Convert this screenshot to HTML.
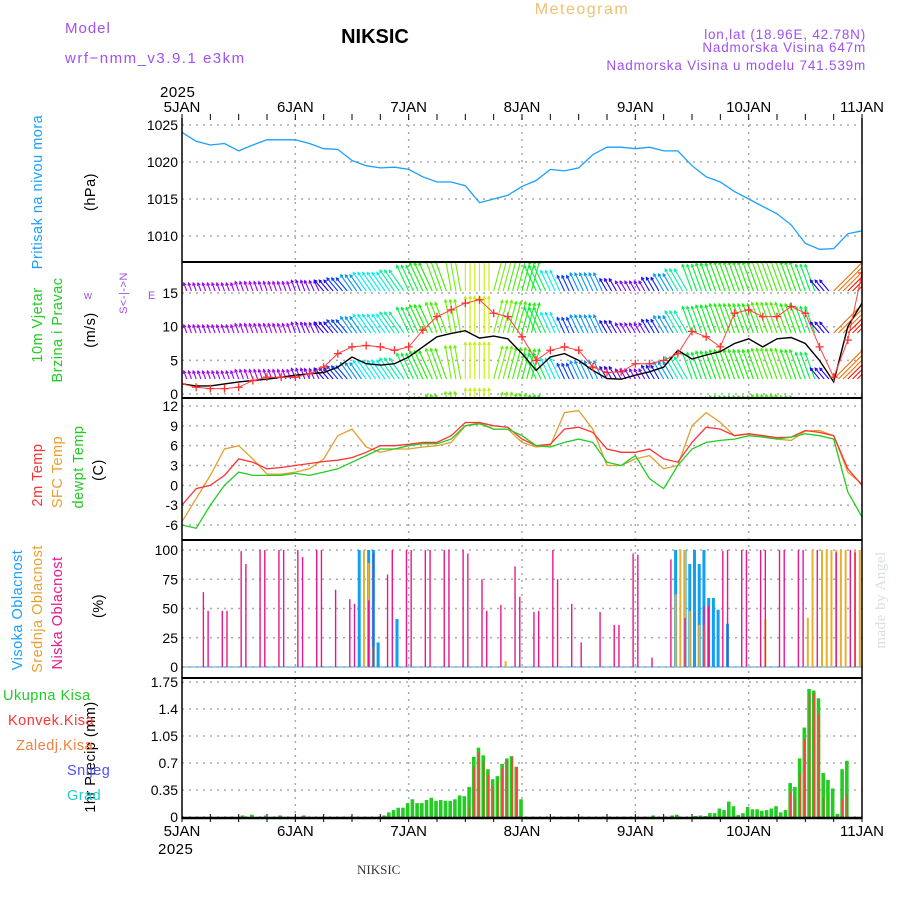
<!DOCTYPE html>
<html><head><meta charset="utf-8"><style>
html,body{margin:0;padding:0;background:#fff;}
svg{display:block;font-family:"Liberation Sans",sans-serif;}
</style></head><body>
<svg id="chart" width="900" height="900" viewBox="0 0 900 900" xmlns="http://www.w3.org/2000/svg">
<rect x="0" y="0" width="900" height="900" fill="#fff"/>
<g id="header" font-size="15" letter-spacing="1">
<text x="65" y="33" fill="#a050f0">Model</text>
<text x="65" y="63" fill="#a050f0" letter-spacing="1.5">wrf−nmm_v3.9.1 e3km</text>
<text x="375" y="43" text-anchor="middle" font-size="20" font-weight="bold" fill="#000" letter-spacing="0">NIKSIC</text>
<text x="582" y="14" text-anchor="middle" fill="#f0c070" font-size="16" letter-spacing="1.5">Meteogram</text>
<text x="866" y="39" text-anchor="end" fill="#a050f0" font-size="13.5" letter-spacing="0.8">lon,lat (18.96E, 42.78N)</text>
<text x="866" y="52" text-anchor="end" fill="#a050f0" font-size="13.5" letter-spacing="0.8">Nadmorska Visina 647m</text>
<text x="866" y="70" text-anchor="end" fill="#a050f0" font-size="13.5" letter-spacing="0.8">Nadmorska Visina u modelu 741.539m</text>
<text x="160" y="97" fill="#000" font-size="15" letter-spacing="0.5">2025</text>
<text x="158" y="854" fill="#000" font-size="15" letter-spacing="0.5">2025</text>
<text x="357" y="874" fill="#333" font-size="13" font-family="Liberation Serif,serif" letter-spacing="0">NIKSIC</text>
<text transform="translate(885,600) rotate(-90)" text-anchor="middle" fill="#d8e0d8" font-size="15" font-family="Liberation Serif,serif" letter-spacing="0.5">made by Angel</text>
</g>
<g id="left-labels" font-size="14.5" letter-spacing="0.5">
<text transform="translate(42,192) rotate(-90)" text-anchor="middle" fill="#1a9fff">Pritisak na nivou mora</text>
<text transform="translate(95,192) rotate(-90)" text-anchor="middle" fill="#000">(hPa)</text>
<text transform="translate(42,325) rotate(-90)" text-anchor="middle" fill="#22cc22">10m Vjetar</text>
<text transform="translate(62,330) rotate(-90)" text-anchor="middle" fill="#22cc22">Brzina i Pravac</text>
<text transform="translate(95,330) rotate(-90)" text-anchor="middle" fill="#000">(m/s)</text>
<text x="84" y="299" fill="#a050f0" font-size="11">w</text>
<text x="148" y="299" fill="#a050f0" font-size="11">E</text>
<text transform="translate(127,293) rotate(-90)" text-anchor="middle" fill="#a050f0" font-size="11">S&lt;-|-&gt;N</text>
<text transform="translate(42,475) rotate(-90)" text-anchor="middle" fill="#ff3333">2m Temp</text>
<text transform="translate(62,472) rotate(-90)" text-anchor="middle" fill="#e8a030">SFC Temp</text>
<text transform="translate(83,467) rotate(-90)" text-anchor="middle" fill="#22cc22">dewpt Temp</text>
<text transform="translate(103,470) rotate(-90)" text-anchor="middle" fill="#000">(C)</text>
<text transform="translate(22,610) rotate(-90)" text-anchor="middle" fill="#1a9fff">Visoka Oblacnost</text>
<text transform="translate(42,609) rotate(-90)" text-anchor="middle" fill="#e8a030">Srednja Oblacnost</text>
<text transform="translate(62,613) rotate(-90)" text-anchor="middle" fill="#e8188c">Niska Oblacnost</text>
<text transform="translate(103,606) rotate(-90)" text-anchor="middle" fill="#000">(%)</text>
<text transform="translate(95,757) rotate(-90)" text-anchor="middle" fill="#000">1hr Precip (mm)</text>
<text x="3" y="700" fill="#22cc22">Ukupna Kisa</text>
<text x="8" y="725" fill="#ff3333">Konvek.Kisa</text>
<text x="16" y="750" fill="#f08040">Zaledj.Kisa</text>
<text x="67" y="775" fill="#5050ff">Snijeg</text>
<text x="67" y="800" fill="#22cccc">Grad</text>
</g>
<g id="plot"></g>
</svg>
<script>
// ---------- DATA (3-hourly, index 0 = 5JAN 00h ... 48 = 11JAN 00h) ----------
const dayLabels = ["5JAN","6JAN","7JAN","8JAN","9JAN","10JAN","11JAN"];
const pressure = [1024,1022.8,1022.3,1022.5,1021.5,1022.3,1023,1023,1023,1022.5,1021.8,1021.7,1020.2,1019.5,1019.2,1019.3,1019,1018,1017.3,1017.3,1016.8,1014.5,1015,1015.5,1016.7,1017.5,1019,1018.8,1019.2,1021,1022,1022,1021.8,1022,1021.5,1021.5,1019.5,1018,1017.3,1016,1015,1014,1013,1011.5,1009,1008.2,1008.3,1010.3,1010.7];
const windSpeed = [1.5,1.2,1.2,1.5,1.8,2,2.2,2.5,2.8,3,3.2,4,5.5,4.5,4.3,4.5,5.5,7,8.5,9,9.4,8.3,8.6,8.2,6,3.5,5.5,6,5,3.5,2.3,2.2,2.8,3.3,4,6.5,5.2,5.8,6.3,7.5,8.2,7,8.2,8.4,7.5,5,1.8,10,13.5];
const windGust = [1.5,1,0.8,0.8,1,2,2.5,2.5,2.5,3,4,6,7,7.2,7,6.5,7,9.5,11.5,12.5,13.5,14,12,11.5,8.5,5,6.5,7,6.5,4,3.2,3.3,4.5,4.5,5,6,9.3,8.5,7,12,12.5,11.5,11.5,13,12,7,2.5,8,18];
const arrowSpeed = [2,2,2,2,2.5,2.5,2.5,2.5,3,3,4,5,6,7,7,8,9,10,10.5,11,12,12,11,10.5,10,9,7,5,6,6,4,3,3,4.5,6,8,9,9.5,10,10,10,10.5,10.5,10,9,4,14,15,16];
const arrowDir = [110,110,110,110,110,110,110,110,110,115,130,130,125,125,125,125,115,115,110,100,90,90,75,75,75,115,115,115,115,115,120,120,120,120,120,120,110,110,110,110,110,110,110,110,110,130,45,45,45];
const temp2m = [-3,-0.5,0,1.5,4,3.5,2.5,2.7,3,3.3,3.6,3.8,4.2,5,6,6,6.2,6.5,6.5,7.5,9.5,9.5,9,8.8,7,6,6.2,8.5,8.8,8,5.5,5,5,5.5,4,3.5,6.5,8.8,8.5,7.5,7.8,7.5,7.2,7.3,8.3,8,7.5,2.5,0];
const tempSfc = [-5.5,-2,1.5,5.5,6,4,1.7,1.7,2,2.5,4,7.5,8.5,5.8,5,5.5,5.5,5.8,6,6.5,9,9.5,8.5,8.5,6.5,5.8,6,11,11.3,8.5,3,3,4,4.5,2.5,3,9,11,9.5,7.5,7.8,7.5,7,6.8,8.2,8.3,7.5,2,0.2];
const tempDew = [-6,-6.5,-3,0,2,1.5,1.5,1.5,1.8,1.5,2,2.5,3.5,4.5,5.5,5.5,6,6.3,6.3,7,9,9.3,8.5,8.5,7.5,6,5.8,6.5,7,6.5,3.5,3,4.5,1,-0.5,3,5.5,6.5,6.8,7,7.5,7.3,7,7.3,7.8,7.5,7,-1,-4.8];
// cloud cover (hourly, sparse)
const lowCloudHours = [4,5,8,9,12,13,16,17,20,21,24,25,28,29,32,35,36,39,40,43,44,47,48,51,52,55,56,59,60,63,64,67,70,71,74,75,78,79,82,84,88,91,92,95,96,99,103,106,110,111,114,115,118,119,122,123,126,127,130,131,134,138,141,142];
const lowCloudVals = [64,48,48,48,99,88,100,100,100,100,100,94,100,100,66,58,54,57,97,79,100,100,100,100,100,100,100,100,97,75,48,53,86,60,47,48,100,75,54,21,47,36,36,97,96,8,92,42,52,52,99,100,100,100,100,100,100,100,100,100,100,98,100,98];
const highCloudHours = [37,39,40,41,45,104,106,107,108,109,110,111,112,113,115];
const highCloudVals = [100,100,100,21,41,100,100,88,100,88,100,59,59,49,37];
const midCloudHours = [38,39,40,68,104,105,106,107,109,110,123,132,133,135,136,137,138,139,140,142,143];
const midCloudVals = [100,89,17,5,62,100,100,48,36,36,41,42,100,100,100,100,100,100,100,100,100];
// precipitation (hourly, sparse)
const precipHours = [13,15,18,21,26,43,44,45,46,47,48,49,50,51,52,53,54,55,56,57,58,59,60,61,62,63,64,65,66,67,68,69,70,71,72,100,104,105,109,110,111,112,113,114,115,116,117,118,119,120,121,122,123,124,125,126,127,128,129,130,131,132,133,134,135,136,137,138,139,140,141];
const precipTotal = [0.02,0.03,0.02,0.02,0.02,0.02,0.06,0.09,0.12,0.12,0.18,0.23,0.18,0.18,0.22,0.25,0.21,0.22,0.21,0.21,0.23,0.28,0.27,0.39,0.78,0.9,0.8,0.62,0.49,0.53,0.69,0.76,0.79,0.65,0.23,0.02,0.02,0.03,0.013,0.02,0.013,0.05,0.05,0.11,0.09,0.2,0.14,0.025,0.05,0.13,0.1,0.1,0.08,0.09,0.11,0.14,0.06,0.09,0.44,0.39,0.76,1.16,1.66,1.64,1.54,0.57,0.48,0.37,0.04,0.62,0.73];
const precipConv = [0,0,0,0,0,0,0,0,0,0,0,0,0,0,0,0,0,0,0,0,0,0,0,0.13,0.65,0.84,0.72,0.55,0.4,0.47,0.63,0.74,0.78,0.65,0,0,0,0,0,0,0,0,0,0,0,0,0,0,0,0,0,0,0,0,0,0,0,0,0.32,0.25,0.57,1.01,1.6,1.6,1.34,0.25,0,0,0,0.23,0.3];
const pressureTicks = [1025,1020,1015,1010];
const windTicks = [0,5,10,15];
const tempTicks = [12,9,6,3,0,-3,-6];
const cloudTicks = [100,75,50,25,0];
const precipTicks = [1.75,1.4,1.05,0.7,0.35,0];
const precipTickLabels = ["1.75","1.4","1.05","0.7","0.35","0"];

// ---------- SCALES ----------
const X0=182, X1=862, HOURS=144;
function xh(h){return X0+(X1-X0)*h/HOURS;}
function x3(i){return xh(i*3);}
function yP(p){return 125+(1025-p)*7.4;}
function yW(v){return 394-v*6.73;}
function yT(t){return 406+(12-t)*6.61;}
function yC(c){return 667-c*1.17;}
function yR(r){return 817-r*77.1;}
const panels=[[118,262],[262,398],[398,540],[540,678],[678,818]];

const NS="http://www.w3.org/2000/svg";
const plot=document.getElementById('plot');
function mk(tag,attrs,parent){const e=document.createElementNS(NS,tag);for(const k in attrs)e.setAttribute(k,attrs[k]);(parent||plot).appendChild(e);return e;}

const defs=mk('defs',{});
panels.forEach((p,i)=>{const c=mk('clipPath',{id:'clip'+i},defs);mk('rect',{x:X0,y:p[0],width:X1-X0,height:p[1]-p[0]},c);});

const grid=mk('g',{});


for(let d=1;d<6;d++){
  const gl=mk('line',{x1:xh(d*24),x2:xh(d*24),y1:118,y2:818,stroke:'#aaa','stroke-width':1.5,'stroke-dasharray':'2,5'},grid);
  
  
}
function hgrid(vals,fy,name){vals.forEach(v=>{const l=mk('line',{x1:X0,x2:X1,y1:fy(v),y2:fy(v),stroke:'#aaa','stroke-width':1.5,'stroke-dasharray':'2,5'},grid);
  
  });}
hgrid(pressureTicks,yP,'pressure-gridline');
hgrid(windTicks,yW,'wind-gridline');
hgrid(tempTicks,yT,'temp-gridline');
hgrid(cloudTicks,yC,'cloud-gridline');
hgrid(precipTicks,yR,'precip-gridline');

function ticks(vals,labels,fy,name){vals.forEach((v,i)=>{const t=mk('text',{x:178,y:fy(v)+5,'text-anchor':'end','font-size':14,fill:'#000'});
  
  
  t.textContent=labels[i];});}
ticks(pressureTicks,pressureTicks.map(String),yP,'pressure-tick-label');
ticks(windTicks,windTicks.map(String),yW,'wind-tick-label');
ticks(tempTicks,tempTicks.map(String),yT,'temp-tick-label');
ticks(cloudTicks,cloudTicks.map(String),yC,'cloud-tick-label');
ticks(precipTicks,precipTickLabels,yR,'precip-tick-label');
dayLabels.forEach((d,i)=>{
  const t1=mk('text',{x:xh(i*24),y:112,'text-anchor':'middle','font-size':15,fill:'#000'});
  
  
  t1.textContent=d;
  const t2=mk('text',{x:xh(i*24),y:836,'text-anchor':'middle','font-size':15,fill:'#000'});
  
  
  t2.textContent=d;
});
for(let h=0;h<=HOURS;h+=6){mk('line',{x1:xh(h),x2:xh(h),y1:114,y2:120,stroke:'#000','stroke-width':1});mk('line',{x1:xh(h),x2:xh(h),y1:814,y2:822,stroke:'#000','stroke-width':1});}

function poly(arr,fy,color,clip,name,w){
  const pts=arr.map((v,i)=>x3(i).toFixed(1)+','+fy(v).toFixed(1)).join(' ');
  const p=mk('polyline',{points:pts,fill:'none',stroke:color,'stroke-width':w||1.3,'clip-path':'url(#clip'+clip+')'});
  
  
  return p;
}
poly(pressure,yP,'#1a9fff',0,'pressure-line');

// wind arrows
function arrowColor(s){let h=280-Math.max(0,s-2.5)*22;if(h<0)h+=360;return 'hsl('+h+',95%,48%)';}
const arrows=mk('g',{'clip-path':'url(#clip1)'});


const rowBases=[291,333,379,425];
rowBases.forEach(b=>{
  for(let h=0;h<=HOURS;h++){
    const i=Math.min(48,Math.floor(h/3));
    const s=arrowSpeed[i], a=arrowDir[i]*Math.PI/180, L=3+s*2.8;
    const x=xh(h), x2=x+Math.cos(a)*L, y2=b-Math.sin(a)*L, c=arrowColor(s);
    const ln=mk('line',{x1:x,y1:b,x2:x2,y2:y2,stroke:c,'stroke-width':1.1},arrows);
    
    
    const ha=0.5,hl=3;
    mk('polyline',{points:(x2-Math.cos(a-ha)*hl)+','+(y2+Math.sin(a-ha)*hl)+' '+x2+','+y2+' '+(x2-Math.cos(a+ha)*hl)+','+(y2+Math.sin(a+ha)*hl),fill:'none',stroke:c,'stroke-width':1.1},arrows);
  }
});
poly(windSpeed,yW,'#000',1,'wind-speed-line',1.4);
poly(windGust,yW,'#ff4040',1,'wind-gust-line',1);
const gustG=mk('g',{'clip-path':'url(#clip1)'});


windGust.forEach((g,i)=>{const x=x3(i),y=yW(g);
  const m=mk('path',{d:'M'+(x-4)+' '+y+'h8M'+x+' '+(y-4)+'v8',stroke:'#ff3030','stroke-width':1.3},gustG);
  
  });

poly(tempSfc,yT,'#e0a030',2,'sfc-temp-line');
poly(temp2m,yT,'#ff3333',2,'temp-2m-line');
poly(tempDew,yT,'#22cc22',2,'dewpoint-line');

const cg=mk('g',{'clip-path':'url(#clip3)'});


mk('line',{x1:X0,x2:X1,y1:667,y2:667,stroke:'#7ab0d0','stroke-width':1.2},cg);
function cbars(hours,vals,color,w,name){hours.forEach((h,i)=>{const y=yC(vals[i]);
  const r=mk('rect',{x:xh(h)+2.5-w/2,y:y,width:w,height:667-y,fill:color},cg);
  
  });}
cbars(highCloudHours,highCloudVals,'#10a0f0',3,'high-cloud-bar');
cbars(midCloudHours,midCloudVals,'#e8b030',2,'mid-cloud-bar');
cbars(lowCloudHours,lowCloudVals,'#e8188c',1.4,'low-cloud-bar');

const pg=mk('g',{'clip-path':'url(#clip4)'});


precipHours.forEach((h,i)=>{
  const yt=yR(precipTotal[i]);
  const r=mk('rect',{x:xh(h)-2.8,y:yt,width:3.6,height:817-yt,fill:'#22cc22'},pg);
  
  
  if(precipConv[i]>0){const yc=yR(precipConv[i]);
    const c=mk('rect',{x:xh(h)-1.3,y:yc,width:1.5,height:817-yc,fill:'#ff4040'},pg);
    
    }
});

const fr=mk('g',{});


mk('line',{x1:X0,x2:X0,y1:118,y2:819,stroke:'#000','stroke-width':1.5},fr);
mk('line',{x1:X1,x2:X1,y1:118,y2:819,stroke:'#000','stroke-width':1.5},fr);
[262,398,540,678].forEach(y=>mk('line',{x1:X0,x2:X1,y1:y,y2:y,stroke:'#000','stroke-width':2},fr));
mk('line',{x1:X0,x2:X1,y1:818,y2:818,stroke:'#000','stroke-width':2.5},fr);
</script>
</body></html>
